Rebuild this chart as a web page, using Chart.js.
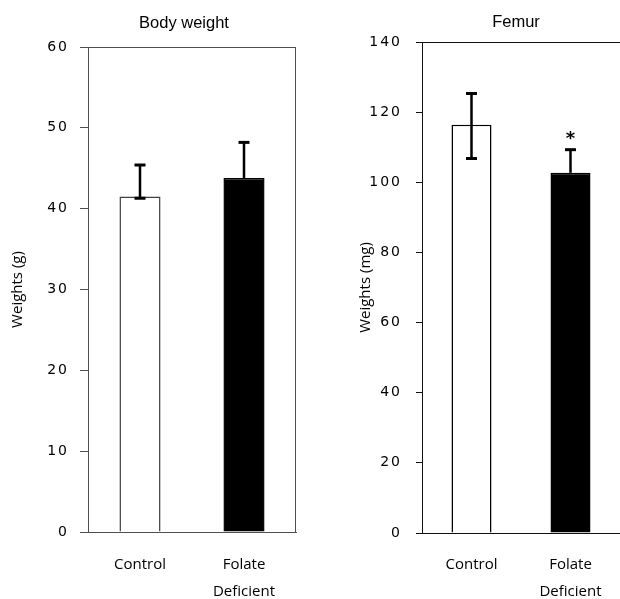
<!DOCTYPE html>
<html><head><meta charset="utf-8">
<script src="https://cdn.jsdelivr.net/npm/chart.js@4.4.0/dist/chart.umd.min.js"></script>
<style>
html,body{margin:0;padding:0;background:#fff;overflow:hidden;width:620px;height:599px;}
.box{position:absolute;top:0;width:310px;height:599px;}
canvas{display:block;}
</style></head><body>
<div class="box" style="left:0"><canvas id="c1" width="310" height="599"></canvas></div>
<div class="box" style="left:310px"><canvas id="c2" width="310" height="599"></canvas></div>
<script>
// ---- data ----
const categories = ['Control', ['Folate', 'Deficient']];

const bodyTitle = 'Body weight';
const bodyAxisTitle = 'Weights (g)';
const bodyMeans = [41.5, 43.8];
const bodyErrHigh = [45.4, 48.2];
const bodyErrLow = [41.3, 43.8];
const bodyMarks = ['', ''];
const bodyTickMin = 0, bodyTickMax = 60, bodyTickStep = 10;

const femurTitle = 'Femur';
const femurAxisTitle = 'Weights (mg)';
const femurMeans = [116.4, 102.7];
const femurErrHigh = [125.3, 109.3];
const femurErrLow = [106.8, 102.7];
const femurMarks = ['', '*'];
const femurTickMin = 0, femurTickMax = 140, femurTickStep = 20;

// ---- plugins ----
const errPlugin = {
  id: 'errbars',
  afterDatasetsDraw(chart, args, o) {
    const {ctx, scales: {x, y}} = chart;
    const means = chart.data.datasets[0].data;
    ctx.save();
    ctx.strokeStyle = '#000';
    ctx.fillStyle = '#000';
    o.high.forEach((h, i) => {
      const px = x.getPixelForValue(i);
      const yh = y.getPixelForValue(h);
      const yl = y.getPixelForValue(o.low[i]);
      ctx.lineWidth = 2.5;
      ctx.beginPath(); ctx.moveTo(px, yl); ctx.lineTo(px, yh); ctx.stroke();
      ctx.lineWidth = 3;
      ctx.beginPath(); ctx.moveTo(px - 5.5, yh); ctx.lineTo(px + 5.5, yh);
      if (o.low[i] < means[i]) { ctx.moveTo(px - 5.5, yl); ctx.lineTo(px + 5.5, yl); }
      ctx.stroke();
      if (o.marks[i]) {
        ctx.font = 'bold 18px "DejaVu Sans", sans-serif';
        ctx.textAlign = 'center';
        ctx.textBaseline = 'alphabetic';
        ctx.fillText(o.marks[i], px, yh - 6);
      }
    });
    ctx.restore();
  }
};

const framePlugin = {
  id: 'frame',
  afterDraw(chart, args, o) {
    const {ctx, chartArea: a} = chart;
    ctx.save();
    ctx.strokeStyle = o.color;
    ctx.lineWidth = 1;
    ctx.beginPath();
    ctx.moveTo(a.left, Math.round(a.top) + 0.5);
    ctx.lineTo(a.right, Math.round(a.top) + 0.5);
    if (o.right) { ctx.moveTo(Math.round(a.right) - 0.5, a.top); ctx.lineTo(Math.round(a.right) - 0.5, a.bottom); }
    ctx.stroke();
    ctx.fillStyle = '#000';
    ctx.font = '16.5px "Liberation Sans", Arial, sans-serif';
    ctx.textAlign = 'center';
    ctx.textBaseline = 'alphabetic';
    ctx.fillText(o.text, (a.left + a.right) / 2 + o.dx, o.baseline);
    ctx.restore();
  }
};

const spacingPlugin = {
  id: 'tickspacing',
  afterLayout(chart) {
    const s = chart.scales.y;
    if (s && !s._spaced) {
      const orig = s.drawLabels.bind(s);
      s.drawLabels = function (area) {
        const ctx = this.ctx;
        ctx.save();
        ctx.letterSpacing = '2px';
        orig(area);
        ctx.restore();
      };
      s._spaced = true;
    }
  }
};

function makeChart(id, p) {
  return new Chart(document.getElementById(id), {
    type: 'bar',
    data: {
      labels: categories,
      datasets: [{
        data: p.means,
        backgroundColor: ['#ffffff', '#000000'],
        borderColor: [p.ctrlBorder, '#000000'],
        borderWidth: 1.5,
        barPercentage: p.barPct,
        categoryPercentage: 1
      }]
    },
    plugins: [errPlugin, framePlugin, spacingPlugin],
    options: {
      responsive: false,
      animation: false,
      devicePixelRatio: 1,
      layout: { padding: { top: p.top, right: p.right, left: 0, bottom: 0 } },
      plugins: {
        legend: { display: false },
        tooltip: { enabled: false },
        title: { display: false },
        errbars: { high: p.high, low: p.low, marks: p.marks },
        frame: { color: p.lineColor, right: p.boxRight, text: p.title, dx: p.titleDx, baseline: p.titleBaseline }
      },
      scales: {
        x: {
          grid: { display: false, drawTicks: false },
          border: { display: true, color: p.lineColor, width: 1 },
          ticks: {
            color: '#000',
            padding: p.xPad,
            maxRotation: 0,
            autoSkip: false,
            font: { family: '"Open Sans", sans-serif', size: 15, lineHeight: 1.8 }
          },
          afterFit(s) { s.height = p.xHeight; s.paddingLeft = 0; s.paddingRight = 0; }
        },
        y: {
          min: p.min, max: p.max,
          grid: { drawOnChartArea: false, drawTicks: true, tickLength: p.tickLen, color: p.lineColor },
          border: { display: true, color: p.lineColor, width: 1 },
          ticks: {
            stepSize: p.step,
            color: '#000',
            padding: p.yPad,
            font: { family: '"DejaVu Sans", sans-serif', size: 14 }
          },
          title: {
            display: true,
            text: p.axisTitle,
            color: '#000',
            font: { family: '"Open Sans", sans-serif', size: 15 },
            padding: { top: p.yTitlePad, bottom: 0 }
          },
          afterFit(s) { s.width = p.yWidth; }
        }
      }
    }
  });
}

makeChart('c1', {
  means: bodyMeans, high: bodyErrHigh, low: bodyErrLow, marks: bodyMarks,
  min: bodyTickMin, max: bodyTickMax, step: bodyTickStep,
  title: bodyTitle, axisTitle: bodyAxisTitle,
  ctrlBorder: '#404040', lineColor: '#505050', boxRight: true,
  barPct: 0.395, top: 47, right: 14, xHeight: 67, xPad: 19.5,
  yWidth: 88, tickLen: 8, yPad: 11, yTitlePad: 9,
  titleDx: -8, titleBaseline: 28
});

makeChart('c2', {
  means: femurMeans, high: femurErrHigh, low: femurErrLow, marks: femurMarks,
  min: femurTickMin, max: femurTickMax, step: femurTickStep,
  title: femurTitle, axisTitle: femurAxisTitle,
  ctrlBorder: '#000000', lineColor: '#111111', boxRight: false,
  barPct: 0.404, top: 42, right: 0, xHeight: 66, xPad: 18.5,
  yWidth: 112, tickLen: 6, yPad: 14, yTitlePad: 47,
  titleDx: -5, titleBaseline: 27
});
</script>
</body></html>
